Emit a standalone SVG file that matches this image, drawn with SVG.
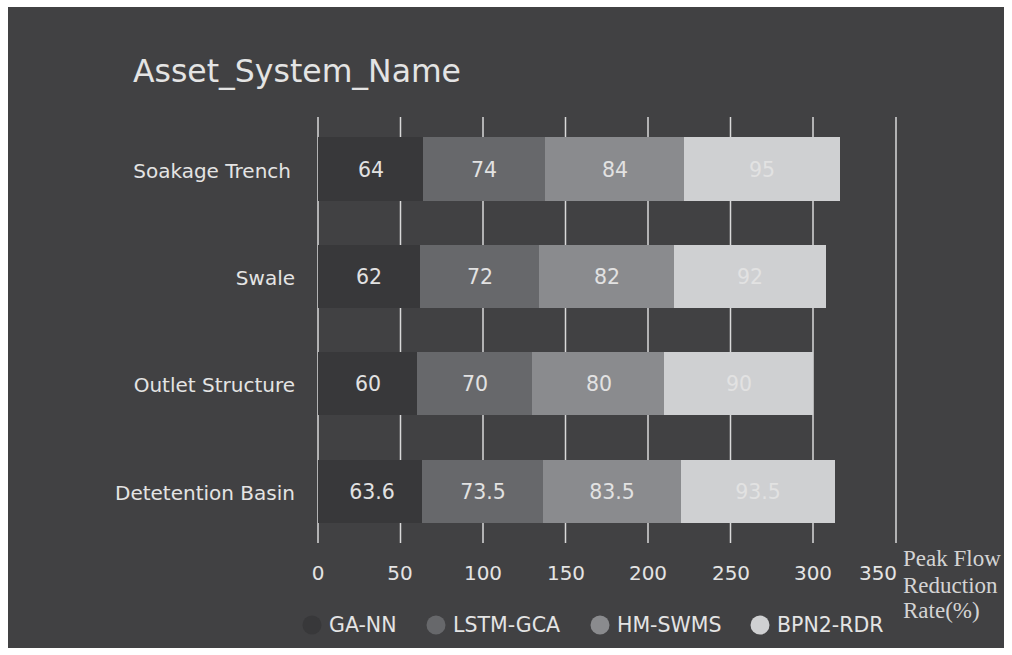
<svg xmlns="http://www.w3.org/2000/svg" width="1012" height="655" viewBox="0 0 1012 655">
<style>
.t{font-family:"DejaVu Sans",sans-serif;fill:#e4e4e4}
.v{font-family:"DejaVu Sans",sans-serif;font-size:20.5px;text-anchor:middle;fill:#e2e2e2}
.c{font-family:"DejaVu Sans",sans-serif;font-size:20px;text-anchor:end;fill:#e4e4e4}
.k{font-family:"DejaVu Sans",sans-serif;font-size:20px;text-anchor:middle;fill:#e4e4e4}
.g{stroke:#d9d9d9;stroke-width:1.5}
.s1{fill:#38383a}.s2{fill:#67686b}.s3{fill:#8a8b8e}.s4{fill:#cfd0d2}
.ax{font-family:"Liberation Serif",serif;font-size:23px;fill:#d4d4d4}
</style>
<rect width="1012" height="655" fill="#ffffff"/>
<rect x="8" y="7" width="996" height="641" fill="#414143"/>
<text class="t" x="133" y="82" font-size="31.5">Asset_System_Name</text>
<g id="grid">
<line class="g" x1="318" y1="117" x2="318" y2="543"/>
<line class="g" x1="400.5" y1="117" x2="400.5" y2="543"/>
<line class="g" x1="483" y1="117" x2="483" y2="543"/>
<line class="g" x1="565.5" y1="117" x2="565.5" y2="543"/>
<line class="g" x1="648" y1="117" x2="648" y2="543"/>
<line class="g" x1="730.5" y1="117" x2="730.5" y2="543"/>
<line class="g" x1="813" y1="117" x2="813" y2="543"/>
<line class="g" x1="896" y1="117" x2="896" y2="543"/>
</g>
<g id="soakage-trench">
<text class="c" x="291" y="178">Soakage Trench</text>
<rect class="s1" x="318" y="137" width="105" height="64"/>
<rect class="s2" x="423" y="137" width="122" height="64"/>
<rect class="s3" x="545" y="137" width="139" height="64"/>
<rect class="s4" x="684" y="137" width="156" height="64"/>
<text class="v" x="371" y="177">64</text>
<text class="v" x="484" y="177">74</text>
<text class="v" x="615" y="177">84</text>
<text class="v" x="762" y="177">95</text>
</g>
<g id="swale">
<text class="c" x="295" y="285">Swale</text>
<rect class="s1" x="318" y="245" width="102" height="63"/>
<rect class="s2" x="420" y="245" width="119" height="63"/>
<rect class="s3" x="539" y="245" width="135" height="63"/>
<rect class="s4" x="674" y="245" width="152" height="63"/>
<text class="v" x="369" y="284">62</text>
<text class="v" x="480" y="284">72</text>
<text class="v" x="607" y="284">82</text>
<text class="v" x="750" y="284">92</text>
</g>
<g id="outlet-structure">
<text class="c" x="295" y="392">Outlet Structure</text>
<rect class="s1" x="318" y="352" width="99" height="63"/>
<rect class="s2" x="417" y="352" width="115" height="63"/>
<rect class="s3" x="532" y="352" width="132" height="63"/>
<rect class="s4" x="664" y="352" width="149" height="63"/>
<text class="v" x="368" y="391">60</text>
<text class="v" x="475" y="391">70</text>
<text class="v" x="599" y="391">80</text>
<text class="v" x="739" y="391">90</text>
</g>
<g id="detention-basin">
<text class="c" x="295" y="500">Detetention Basin</text>
<rect class="s1" x="318" y="460" width="104" height="63"/>
<rect class="s2" x="422" y="460" width="121" height="63"/>
<rect class="s3" x="543" y="460" width="138" height="63"/>
<rect class="s4" x="681" y="460" width="154" height="63"/>
<text class="v" x="372" y="499">63.6</text>
<text class="v" x="483" y="499">73.5</text>
<text class="v" x="612" y="499">83.5</text>
<text class="v" x="758" y="499">93.5</text>
</g>
<g id="x-axis">
<text class="k" x="318" y="580">0</text>
<text class="k" x="400" y="580">50</text>
<text class="k" x="483" y="580">100</text>
<text class="k" x="566" y="580">150</text>
<text class="k" x="648" y="580">200</text>
<text class="k" x="731" y="580">250</text>
<text class="k" x="813" y="580">300</text>
<text class="k" x="878" y="580">350</text>
<text class="ax" x="903" y="566">Peak Flow</text>
<text class="ax" x="903" y="593">Reduction</text>
<text class="ax" x="903" y="618">Rate(%)</text>
</g>
<g id="legend">
<circle cx="312" cy="625" r="9.5" fill="#38383a"/>
<text class="t" x="329" y="632" font-size="20.5">GA-NN</text>
<circle cx="436" cy="625" r="9.5" fill="#67686b"/>
<text class="t" x="453" y="632" font-size="20.5">LSTM-GCA</text>
<circle cx="600" cy="625" r="9.5" fill="#8a8b8e"/>
<text class="t" x="617" y="632" font-size="20.5">HM-SWMS</text>
<circle cx="760" cy="625" r="9.5" fill="#cfd0d2"/>
<text class="t" x="777" y="632" font-size="20.5">BPN2-RDR</text>
</g>
</svg>
